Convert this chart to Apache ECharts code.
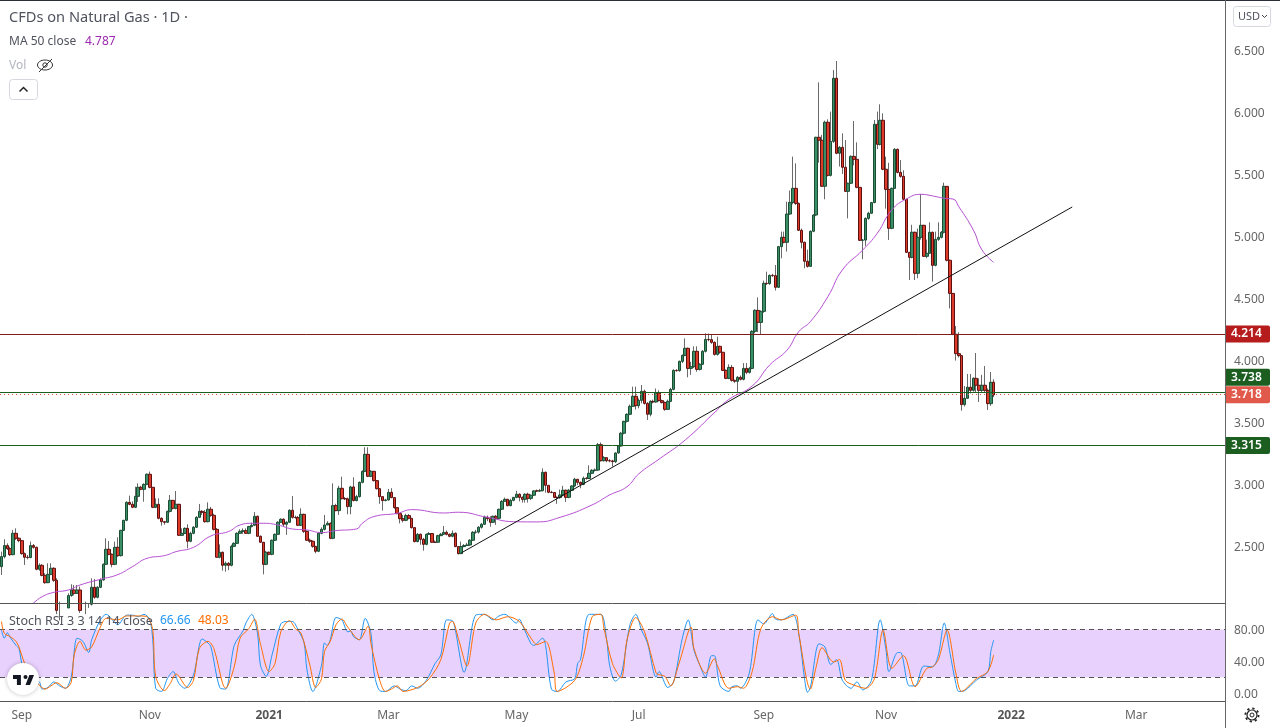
<!DOCTYPE html>
<html>
<head>
<meta charset="utf-8">
<title>CFDs on Natural Gas</title>
<style>
  html, body { margin: 0; padding: 0; background: #fff; }
  #chart { width: 1280px; height: 728px; }
</style>
<script src="https://cdn.jsdelivr.net/npm/echarts@6/dist/echarts.min.js"></script>
</head>
<body>
<div id="chart"></div>
<script>
// bars, one value per trading day
const opens = [
  2.333,2.414,2.503,2.478,2.430,2.602,2.562,2.543,2.438,2.409,
  2.407,2.503,2.489,2.312,2.344,2.263,2.204,2.271,2.320,2.223,
  1.980,1.950,1.970,2.000,2.100,2.145,2.118,2.145,1.980,1.960,
  2.000,2.030,2.167,2.086,2.167,2.226,2.352,2.473,2.433,2.352,
  2.489,2.422,2.626,2.707,2.852,2.836,2.812,2.900,2.973,2.957,
  2.997,3.078,2.973,2.812,2.836,2.723,2.696,2.691,2.779,2.868,
  2.804,2.836,2.586,2.602,2.642,2.538,2.602,2.651,2.731,2.779,
  2.771,2.696,2.796,2.747,2.634,2.409,2.449,2.344,2.360,2.344,
  2.497,2.521,2.602,2.618,2.623,2.602,2.656,2.667,2.739,2.578,
  2.530,2.352,2.449,2.433,2.546,2.594,2.691,2.715,2.675,2.691,
  2.788,2.731,2.729,2.667,2.755,2.618,2.546,2.538,2.497,2.457,
  2.602,2.634,2.669,2.683,2.562,2.825,2.785,2.965,2.882,2.880,
  2.817,2.976,2.866,2.898,3.013,3.102,3.239,3.062,3.102,3.027,
  2.962,2.898,2.866,2.871,2.933,2.890,2.809,2.761,2.720,2.707,
  2.745,2.723,2.648,2.535,2.594,2.554,2.513,2.594,2.600,2.530,
  2.530,2.583,2.594,2.610,2.594,2.578,2.602,2.495,2.438,2.495,
  2.503,2.508,2.546,2.610,2.612,2.651,2.675,2.731,2.720,2.691,
  2.739,2.723,2.796,2.860,2.876,2.825,2.868,2.892,2.917,2.892,
  2.876,2.917,2.884,2.909,2.944,2.944,2.946,3.094,2.989,2.933,
  2.931,2.892,2.890,2.911,2.949,2.892,2.949,2.984,3.038,3.013,
  2.997,3.046,3.044,3.086,3.110,3.112,3.317,3.188,3.212,3.188,
  3.186,3.180,3.250,3.306,3.409,3.505,3.562,3.626,3.707,3.632,
  3.674,3.747,3.650,3.562,3.666,3.661,3.734,3.672,3.656,3.602,
  3.666,3.763,3.916,3.914,3.989,4.037,4.094,3.932,3.946,4.070,
  3.924,3.965,4.070,4.166,4.164,4.142,4.045,4.110,4.062,3.916,
  3.852,3.940,3.836,3.828,3.860,3.844,3.932,3.900,3.932,4.231,
  4.400,4.303,4.392,4.618,4.616,4.682,4.680,4.586,4.914,4.989,
  4.949,5.177,5.271,5.384,5.263,5.046,4.949,4.796,4.755,5.038,
  5.169,5.796,5.772,5.401,5.917,5.489,5.763,6.272,5.667,5.715,
  5.554,5.360,5.425,5.642,5.618,5.392,4.965,4.967,5.142,5.183,
  5.269,5.901,5.739,5.933,5.538,5.376,5.062,5.384,5.699,5.513,
  5.481,5.296,4.868,4.828,5.030,4.699,4.989,5.086,4.836,4.860,
  5.030,4.763,4.973,4.989,5.030,5.400,4.804,4.537,4.207,4.051,
  4.035,3.640,3.691,3.780,3.755,3.852,3.796,3.755,3.796,3.755,
  3.648,3.820
];
const closes = [
  2.414,2.503,2.478,2.430,2.602,2.562,2.543,2.438,2.409,2.407,
  2.503,2.489,2.312,2.344,2.263,2.204,2.271,2.320,2.223,1.980,
  1.950,1.970,2.000,2.100,2.145,2.118,2.145,1.980,1.960,2.000,
  2.030,2.167,2.086,2.167,2.226,2.352,2.473,2.433,2.352,2.489,
  2.422,2.626,2.707,2.852,2.836,2.812,2.900,2.973,2.957,2.997,
  3.078,2.973,2.812,2.836,2.723,2.696,2.691,2.779,2.868,2.804,
  2.836,2.586,2.602,2.642,2.538,2.602,2.651,2.731,2.779,2.771,
  2.696,2.796,2.747,2.634,2.409,2.449,2.344,2.360,2.344,2.497,
  2.521,2.602,2.618,2.623,2.602,2.656,2.667,2.739,2.578,2.530,
  2.352,2.449,2.433,2.546,2.594,2.691,2.715,2.675,2.691,2.788,
  2.731,2.729,2.667,2.755,2.618,2.546,2.538,2.497,2.457,2.602,
  2.634,2.669,2.683,2.562,2.825,2.785,2.965,2.882,2.880,2.817,
  2.976,2.866,2.898,3.013,3.102,3.239,3.062,3.102,3.027,2.962,
  2.898,2.866,2.871,2.933,2.890,2.809,2.761,2.720,2.707,2.745,
  2.723,2.648,2.535,2.594,2.554,2.513,2.594,2.600,2.530,2.530,
  2.583,2.594,2.610,2.594,2.578,2.602,2.495,2.438,2.495,2.503,
  2.508,2.546,2.610,2.612,2.651,2.675,2.731,2.720,2.691,2.739,
  2.723,2.796,2.860,2.876,2.825,2.868,2.892,2.917,2.892,2.876,
  2.917,2.884,2.909,2.944,2.944,2.946,3.094,2.989,2.933,2.931,
  2.892,2.890,2.911,2.949,2.892,2.949,2.984,3.038,3.013,2.997,
  3.046,3.044,3.086,3.110,3.112,3.317,3.188,3.212,3.188,3.186,
  3.180,3.250,3.306,3.409,3.505,3.562,3.626,3.707,3.632,3.674,
  3.747,3.650,3.562,3.666,3.661,3.734,3.672,3.656,3.602,3.666,
  3.763,3.916,3.914,3.989,4.037,4.094,3.932,3.946,4.070,3.924,
  3.965,4.070,4.166,4.164,4.142,4.045,4.110,4.062,3.916,3.852,
  3.940,3.836,3.828,3.860,3.844,3.932,3.900,3.932,4.231,4.400,
  4.303,4.392,4.618,4.616,4.682,4.680,4.586,4.914,4.989,4.949,
  5.177,5.271,5.384,5.263,5.046,4.949,4.796,4.755,5.038,5.169,
  5.796,5.772,5.401,5.917,5.489,5.763,6.272,5.667,5.715,5.554,
  5.360,5.425,5.642,5.618,5.392,4.965,4.967,5.142,5.183,5.269,
  5.901,5.739,5.933,5.538,5.376,5.062,5.384,5.699,5.513,5.481,
  5.296,4.868,4.828,5.030,4.699,4.989,5.086,4.836,4.860,5.030,
  4.763,4.973,4.989,5.030,5.400,4.804,4.537,4.207,4.051,4.035,
  3.640,3.691,3.780,3.755,3.852,3.796,3.755,3.796,3.755,3.648,
  3.820,3.718
];
const highs = [
  2.454,2.554,2.521,2.494,2.629,2.642,2.570,2.548,2.447,2.427,
  2.535,2.516,2.494,2.360,2.354,2.280,2.360,2.360,2.328,2.240,
  2.051,2.020,2.030,2.118,2.191,2.185,2.185,2.172,2.020,2.051,
  2.040,2.239,2.234,2.175,2.239,2.360,2.562,2.540,2.440,2.535,
  2.570,2.630,2.710,2.860,2.906,2.860,2.978,3.005,2.985,3.005,
  3.085,3.100,2.975,2.884,2.884,2.731,2.700,2.785,2.911,2.870,
  2.943,2.840,2.642,2.650,2.675,2.615,2.660,2.740,2.839,2.790,
  2.790,2.852,2.815,2.760,2.645,2.513,2.455,2.375,2.370,2.510,
  2.530,2.610,2.635,2.642,2.642,2.662,2.688,2.774,2.745,2.585,
  2.530,2.460,2.455,2.552,2.600,2.700,2.723,2.723,2.700,2.795,
  2.903,2.745,2.742,2.804,2.760,2.625,2.560,2.545,2.500,2.610,
  2.650,2.750,2.700,2.690,3.005,2.840,2.985,3.059,2.895,2.890,
  2.985,3.054,2.912,3.020,3.110,3.296,3.296,3.112,3.105,3.000,
  2.965,2.880,2.880,2.960,2.966,2.895,2.790,2.765,2.750,2.760,
  2.758,2.725,2.650,2.605,2.600,2.565,2.600,2.612,2.605,2.545,
  2.590,2.605,2.661,2.625,2.600,2.625,2.610,2.500,2.535,2.515,
  2.525,2.555,2.620,2.630,2.660,2.685,2.745,2.745,2.740,2.745,
  2.750,2.800,2.870,2.890,2.880,2.880,2.895,2.945,2.925,2.900,
  2.925,2.930,2.915,2.950,2.955,2.960,3.126,3.100,2.950,2.945,
  2.915,2.900,2.955,2.985,2.955,2.960,2.990,3.050,3.040,3.020,
  3.060,3.055,3.150,3.120,3.125,3.330,3.335,3.225,3.200,3.200,
  3.195,3.255,3.310,3.420,3.510,3.570,3.640,3.785,3.785,3.690,
  3.798,3.760,3.660,3.675,3.680,3.770,3.755,3.680,3.665,3.680,
  3.775,3.925,3.925,3.995,4.045,4.174,4.100,3.985,4.110,4.110,
  3.975,4.080,4.215,4.213,4.205,4.150,4.188,4.115,4.065,3.925,
  3.965,3.960,3.840,3.870,3.875,3.975,3.975,3.945,4.240,4.410,
  4.505,4.400,4.640,4.712,4.690,4.695,4.766,4.920,5.035,5.035,
  5.277,5.366,5.640,5.586,5.270,5.060,4.955,4.890,5.045,5.175,
  5.800,6.239,5.815,5.930,5.941,6.003,6.339,6.411,5.725,5.828,
  5.774,5.430,5.650,5.927,5.755,5.395,4.975,5.150,5.195,5.275,
  5.935,6.003,6.062,5.989,5.640,5.590,5.390,5.708,5.705,5.612,
  5.530,5.300,4.870,5.090,5.035,5.060,5.339,5.090,4.970,5.110,
  5.035,5.035,5.110,5.040,5.430,5.400,4.810,4.540,4.274,4.223,
  4.040,3.790,3.887,3.887,3.860,4.056,3.852,3.880,3.951,3.770,
  3.903,3.844
];
const lows = [
  2.266,2.400,2.468,2.419,2.425,2.548,2.530,2.430,2.347,2.392,
  2.400,2.478,2.305,2.300,2.255,2.195,2.200,2.265,2.210,1.950,
  1.900,1.930,1.970,2.030,2.090,2.100,2.113,1.960,1.930,1.950,
  2.000,2.020,2.075,2.078,2.160,2.220,2.347,2.425,2.328,2.345,
  2.410,2.415,2.620,2.700,2.828,2.805,2.805,2.855,2.950,2.857,
  2.990,2.965,2.805,2.805,2.715,2.664,2.671,2.685,2.770,2.795,
  2.795,2.580,2.580,2.595,2.481,2.530,2.595,2.645,2.725,2.750,
  2.688,2.690,2.735,2.625,2.405,2.400,2.301,2.293,2.305,2.335,
  2.490,2.515,2.600,2.597,2.597,2.595,2.650,2.660,2.574,2.525,
  2.271,2.345,2.425,2.425,2.540,2.590,2.688,2.655,2.589,2.685,
  2.720,2.720,2.660,2.660,2.605,2.540,2.525,2.485,2.441,2.450,
  2.595,2.625,2.670,2.555,2.555,2.780,2.750,2.875,2.870,2.755,
  2.755,2.860,2.860,2.890,3.005,3.095,3.055,3.055,3.020,2.955,
  2.840,2.785,2.860,2.865,2.885,2.800,2.755,2.682,2.690,2.700,
  2.715,2.640,2.530,2.530,2.510,2.462,2.505,2.590,2.525,2.525,
  2.525,2.580,2.590,2.585,2.570,2.570,2.490,2.432,2.435,2.490,
  2.500,2.500,2.540,2.600,2.600,2.640,2.670,2.700,2.655,2.685,
  2.670,2.715,2.790,2.860,2.820,2.820,2.860,2.885,2.860,2.850,
  2.850,2.850,2.870,2.905,2.935,2.935,2.940,2.930,2.925,2.925,
  2.885,2.840,2.880,2.900,2.855,2.885,2.945,2.975,2.990,2.965,
  2.990,3.035,3.040,3.080,3.100,3.105,3.180,3.180,3.175,3.175,
  3.140,3.170,3.245,3.300,3.400,3.495,3.555,3.625,3.600,3.610,
  3.650,3.640,3.516,3.545,3.650,3.655,3.665,3.650,3.590,3.600,
  3.660,3.755,3.905,3.905,3.975,4.030,3.860,3.880,3.935,3.905,
  3.915,3.960,4.060,4.150,4.130,4.035,4.035,4.050,3.910,3.845,
  3.845,3.825,3.815,3.731,3.835,3.835,3.885,3.890,3.925,4.215,
  4.225,4.207,4.380,4.605,4.605,4.670,4.560,4.580,4.820,4.940,
  4.874,5.170,5.255,5.250,5.040,4.900,4.739,4.745,4.750,5.030,
  5.160,5.591,5.395,5.296,5.480,5.480,5.750,5.660,5.560,5.500,
  5.356,5.142,5.420,5.570,5.385,4.960,4.812,4.920,5.130,5.180,
  5.265,5.700,5.730,5.530,5.220,4.968,5.055,5.380,5.505,5.470,
  5.290,4.862,4.645,4.820,4.645,4.659,4.970,4.830,4.820,4.860,
  4.632,4.755,4.960,4.980,5.020,4.795,4.416,4.200,3.995,4.020,
  3.591,3.625,3.685,3.730,3.745,3.740,3.661,3.740,3.735,3.597,
  3.630,3.700
];

// 50 day average, read at its bends
const maIndex = [8,11,14,18,23,27,34,40,45,50,56,60,66,72,78,82,86,90,95,100,105,110,115,122,124,128,136,141,152,157,167,176,184,192,203,209,215,219,226,235,246,250,258,264,270,274,278,284,289,296,301,306,311,316,320,324,327,329,334,337,341];
const maValues = [1.98,2.04,2.091,2.126,2.145,2.185,2.231,2.269,2.333,2.400,2.422,2.454,2.489,2.581,2.616,2.669,2.683,2.683,2.669,2.637,2.629,2.608,2.624,2.637,2.683,2.737,2.763,2.793,2.766,2.772,2.731,2.696,2.694,2.731,2.831,2.911,2.978,3.081,3.2,3.355,3.597,3.682,3.79,3.959,4.08,4.228,4.309,4.51,4.726,4.887,5.022,5.21,5.298,5.336,5.323,5.304,5.298,5.237,5.048,4.887,4.787];

// stoch rsi K and D, read at their turning points
const kIndex = [0,1,2,3,5,6,7,8,10,13,14,16,18,20,22,24,26,28,30,31,34,36,40,43,45,47,49,51,52,53,55,57,59,61,63,66,69,71,72,75,77,80,83,84,86,88,89,91,93,96,98,100,102,104,105,107,110,111,112,113,115,117,119,120,121,123,125,127,128,130,132,135,137,139,141,143,146,149,151,153,155,156,159,163,166,169,171,173,177,178,179,182,183,186,187,189,191,194,197,198,199,202,206,208,209,211,213,216,218,220,222,225,226,229,231,234,236,238,240,242,244,245,247,250,251,253,254,257,260,262,265,266,268,272,274,276,277,278,281,283,285,287,289,292,294,296,299,302,304,305,308,309,312,314,317,320,322,324,326,328,329,331,335,339,340,341];
const kValues = [79,69,76,70,60,56,37,27,18,14,5,7,14,9,6,21,69,65,51,67,92,99,86,98,98,96,99,92,67,6,2,18,27,12,6,23,68,63,58,7,5,60,78,88,99,75,35,21,48,87,90,90,79,63,29,2,35,63,60,67,95,92,77,78,71,67,94,75,27,3,2,9,5,3,9,6,16,37,48,92,91,79,26,98,99,92,97,99,88,93,86,62,60,69,60,5,2,14,18,37,42,99,99,67,35,15,23,86,99,79,63,20,27,7,14,69,92,54,35,20,47,47,9,2,8,9,6,25,92,87,100,93,92,99,75,18,1,7,62,58,36,42,16,6,14,4,16,92,54,27,51,51,9,9,34,33,48,88,50,12,2,3,16,27,52,66.66];
const dIndex = [0,1,3,5,6,8,10,13,15,17,19,22,24,25,27,29,31,34,36,40,43,47,50,52,53,56,58,60,64,66,68,71,73,76,77,80,82,85,87,89,92,94,96,99,101,103,106,108,110,111,113,115,117,119,123,126,127,130,132,134,136,138,143,147,151,154,155,157,160,163,166,170,174,178,182,184,187,190,191,197,200,203,206,207,210,213,215,218,221,225,226,228,230,233,237,238,242,245,246,250,253,255,258,261,265,268,273,274,278,280,282,286,288,290,293,297,300,303,306,310,314,318,320,322,325,328,330,335,339,341];
const dValues = [90,75,71,65,58,37,23,10,5,9,13,6,14,48,65,54,58,83,94,92,97,97,96,79,21,3,12,24,7,16,56,65,56,12,6,33,69,81,93,62,27,37,77,91,81,75,35,7,18,52,65,86,93,83,67,84,62,16,2,5,9,2,7,18,42,88,90,69,34,88,99,92,96,90,69,61,65,25,2,16,46,96,99,83,37,19,67,95,77,25,23,21,9,39,83,56,25,43,35,6,8,6,27,81,96,92,98,75,5,33,57,39,42,16,10,6,18,79,31,47,8,31,33,42,79,25,2,18,27,48.03];

// drawn trend line and the horizontal levels
const trendIndex = [158, 368];
const trendValues = [2.4435, 5.234];
const levelValues = [4.214, 3.738, 3.718, 3.315];
const levelLabels = ['4.214', '3.738', '3.718', '3.315'];

// axis labels
const barCount = 421;
const priceTicks = [2.5, 3, 3.5, 4, 4.5, 5, 5.5, 6, 6.5];
const stochTicks = [0, 40, 80];
const dateTickIndex = [7, 51, 92, 133, 177, 219, 262, 304, 347, 390];
const dateTickLabels = ['Sep', 'Nov', '2021', 'Mar', 'May', 'Jul', 'Sep', 'Nov', '2022', 'Mar'];

const font = '"Noto Sans", sans-serif';
const textGray = '#50535e';

const barNames = Array.from({ length: barCount }, (_, i) => String(i));
const wickData = opens.map((o, i) => [o, closes[i], lows[i], highs[i]]);
const bodyData = opens.map((o, i) => [o, closes[i], Math.min(o, closes[i]), Math.max(o, closes[i])]);
const pairs = (xs, ys) => xs.map((x, i) => [x, ys[i]]);

function levelLine(value, text, lineColor, badge, lineType, dy) {
    return {
        yAxis: value,
        lineStyle: { color: lineColor, width: 1, type: lineType },
        label: {
            show: true, position: 'end', distance: 0, formatter: text,
            offset: [0, dy], color: '#fff', backgroundColor: badge, fontFamily: font,
            fontSize: 12, fontWeight: 600, width: 33, height: 13, lineHeight: 13,
            padding: [2, 6], borderRadius: [0, 2, 2, 0], align: 'left'
        }
    };
}

function legendText(x, y, text, color, size) {
    return {
        type: 'text', x: x, y: y, z: 30,
        style: { text: text, fill: color, font: (size || 12) + 'px ' + font, textVerticalAlign: 'middle' }
    };
}

function rule(x1, y1, x2, y2, color) {
    return {
        type: 'line', z: 20, silent: true,
        shape: { x1: x1, y1: y1, x2: x2, y2: y2 },
        style: { stroke: color, lineWidth: 1 }
    };
}

const chart = echarts.init(document.getElementById('chart'));
chart.setOption({
    animation: false,
    backgroundColor: '#ffffff',
    textStyle: { fontFamily: font },
    grid: [
        { left: 0, top: 1, width: 1225, height: 602 },
        { left: 0, top: 604, width: 1225, height: 97 }
    ],
    xAxis: [
        {
            type: 'category', gridIndex: 0, data: barNames, boundaryGap: true,
            axisLine: { show: false }, axisTick: { show: false }, axisLabel: { show: false }, splitLine: { show: false }
        },
        {
            type: 'category', gridIndex: 1, data: barNames, boundaryGap: true,
            axisLine: { show: false }, axisTick: { show: false }, splitLine: { show: false },
            axisLabel: {
                margin: 9, color: '#666', fontSize: 12, fontFamily: font, hideOverlap: false,
                interval: (index) => dateTickIndex.includes(index),
                formatter: function (value, index) {
                    const label = dateTickLabels[dateTickIndex.indexOf(index)];
                    return label && label.startsWith('20') ? '{b|' + label + '}' : label;
                },
                rich: { b: { fontWeight: 'bold', color: '#555', fontSize: 12, fontFamily: font } }
            }
        }
    ],
    yAxis: [
        {
            type: 'value', gridIndex: 0, position: 'right', min: 2.04, max: 6.895,
            axisLine: { show: false }, axisTick: { show: false }, splitLine: { show: false },
            axisLabel: {
                customValues: priceTicks, margin: 9, color: '#666', fontSize: 12, fontFamily: font,
                verticalAlign: 'top', lineHeight: 3, formatter: (v) => v.toFixed(3)
            }
        },
        {
            type: 'value', gridIndex: 1, position: 'right', min: -10, max: 112,
            axisLine: { show: false }, axisTick: { show: false }, splitLine: { show: false },
            axisLabel: {
                customValues: stochTicks, margin: 9, color: '#666', fontSize: 12, fontFamily: font,
                verticalAlign: 'top', lineHeight: 3, formatter: (v) => v.toFixed(2)
            }
        }
    ],
    series: [
        // the wicks are grey and the bodies have a dark border, so two candlestick layers
        {
            name: 'wicks', type: 'candlestick', xAxisIndex: 0, yAxisIndex: 0, data: wickData, barWidth: 1, z: 2,
            itemStyle: { color: '#6a6a6a', color0: '#6a6a6a', borderColor: '#6a6a6a', borderColor0: '#6a6a6a', borderColorDoji: '#6a6a6a', borderWidth: 1 }
        },
        {
            name: 'bodies', type: 'candlestick', xAxisIndex: 0, yAxisIndex: 0, data: bodyData, barWidth: 3, z: 3,
            itemStyle: { color: '#3a8f68', color0: '#dc3b2a', borderColor: '#1b4d33', borderColor0: '#5e1010', borderColorDoji: '#5e1010', borderWidth: 1 }
        },
        {
            name: 'MA 50', type: 'line', xAxisIndex: 0, yAxisIndex: 0, data: pairs(maIndex, maValues), z: 4,
            symbol: 'none', smooth: 0.5, lineStyle: { color: '#b650d2', width: 1 },
            markLine: {
                silent: true, symbol: 'none', animation: false,
                data: [
                    levelLine(levelValues[0], levelLabels[0], '#7f1d1d', '#b71c1c', 'solid', 0),
                    levelLine(levelValues[1], levelLabels[1], '#1b5e20', '#1b5e20', 'solid', -15),
                    levelLine(levelValues[2], levelLabels[2], '#d8503f', '#e0594a', [1, 3], 0),
                    levelLine(levelValues[3], levelLabels[3], '#1b5e20', '#1b5e20', 'solid', 0)
                ]
            }
        },
        {
            name: 'trend', type: 'line', xAxisIndex: 0, yAxisIndex: 0, data: pairs(trendIndex, trendValues), z: 5,
            symbol: 'none', lineStyle: { color: '#111', width: 1 }
        },
        {
            name: 'K', type: 'line', xAxisIndex: 1, yAxisIndex: 1, data: pairs(kIndex, kValues), z: 4,
            symbol: 'none', smooth: 0.3, lineStyle: { color: '#2196f3', width: 1 },
            markArea: {
                silent: true,
                itemStyle: { color: '#e9d1fd' },
                data: [[{ yAxis: 80 }, { yAxis: 20 }]]
            },
            markLine: {
                silent: true, symbol: 'none', animation: false, label: { show: false },
                lineStyle: { color: '#555', width: 1, type: [5, 4] },
                data: [{ yAxis: 80 }, { yAxis: 20 }]
            }
        },
        {
            name: 'D', type: 'line', xAxisIndex: 1, yAxisIndex: 1, data: pairs(dIndex, dValues), z: 5,
            symbol: 'none', smooth: 0.3, lineStyle: { color: '#ff6d00', width: 1 }
        }
    ],
    graphic: [
        rule(0, 0.5, 1280, 0.5, '#2a2e39'),
        rule(0, 603.5, 1225, 603.5, '#555'),
        rule(0, 701.5, 1225, 701.5, '#555'),
        rule(1225.5, 0, 1225.5, 728, '#666'),

        legendText(9, 18, 'CFDs on Natural Gas · 1D ·', textGray, 14.6),
        legendText(9, 42, 'MA 50 close', textGray),
        legendText(85, 42, '4.787', '#9c27b0'),
        legendText(9, 66, 'Vol', '#b2b5be'),
        legendText(9, 621, 'Stoch RSI 3 3 14 14 close', textGray, 12.5),
        legendText(160, 621, '66.66', '#2196f3'),
        legendText(198, 621, '48.03', '#ff6d00'),

        // crossed out eye next to Vol
        { type: 'ellipse', z: 30, shape: { cx: 45, cy: 65, rx: 7.5, ry: 5 }, style: { fill: 'none', stroke: '#333', lineWidth: 1 } },
        { type: 'circle', z: 30, shape: { cx: 45, cy: 65, r: 2.2 }, style: { fill: 'none', stroke: '#333', lineWidth: 1 } },
        { type: 'line', z: 30, shape: { x1: 39, y1: 72, x2: 52, y2: 59 }, style: { stroke: '#333', lineWidth: 1 } },

        // collapse button
        { type: 'rect', z: 30, shape: { x: 9.5, y: 79.5, width: 28, height: 20, r: 3 }, style: { fill: '#fff', stroke: '#d6d8e0', lineWidth: 1 } },
        { type: 'polyline', z: 31, shape: { points: [[19.5, 91.5], [23.5, 87.5], [27.5, 91.5]] }, style: { fill: 'none', stroke: '#222', lineWidth: 1.5 } },

        // currency button
        { type: 'rect', z: 30, shape: { x: 1233.5, y: 6.5, width: 37, height: 20, r: 3 }, style: { fill: '#fff', stroke: '#d6d8e0', lineWidth: 1 } },
        legendText(1238, 17, 'USD', textGray, 11),
        { type: 'polyline', z: 31, shape: { points: [[1262, 15], [1264.5, 17.5], [1267, 15]] }, style: { fill: 'none', stroke: '#444', lineWidth: 1 } },

        // settings gear
        { type: 'circle', z: 30, shape: { cx: 1252, cy: 715, r: 5 }, style: { fill: 'none', stroke: '#222', lineWidth: 1.2 } },
        { type: 'circle', z: 30, shape: { cx: 1252, cy: 715, r: 6.6 }, style: { fill: 'none', stroke: '#222', lineWidth: 1.8, lineDash: [2.2, 3] } },
        { type: 'circle', z: 30, shape: { cx: 1252, cy: 715, r: 2 }, style: { fill: 'none', stroke: '#222', lineWidth: 1 } },

        // logo
        { type: 'circle', z: 30, shape: { cx: 23, cy: 679, r: 16 }, style: { fill: '#fff', shadowBlur: 4, shadowColor: 'rgba(0,0,0,0.25)' } },
        { type: 'polygon', z: 31, shape: { points: [[13, 675], [20.9, 675], [20.9, 685], [16.9, 685], [16.9, 679], [13, 679]] }, style: { fill: '#131722' } },
        { type: 'polygon', z: 31, shape: { points: [[29.4, 675], [34, 675], [30, 685], [25.5, 685]] }, style: { fill: '#131722' } },
        { type: 'circle', z: 31, shape: { cx: 25.5, cy: 677, r: 2 }, style: { fill: '#131722' } }
    ]
});
</script>
</body>
</html>
